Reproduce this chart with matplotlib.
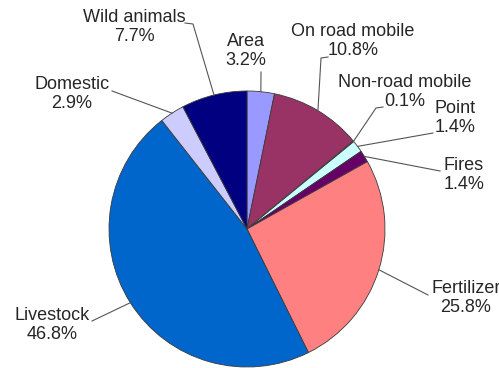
import matplotlib.pyplot as plt
import numpy as np

plt.rcParams['font.family'] = ['Liberation Sans', 'DejaVu Sans']

# emission sources, clockwise from 12 o'clock
sources = ['Area', 'On road mobile', 'Non-road mobile', 'Point', 'Fires',
           'Fertilizer', 'Livestock', 'Domestic', 'Wild animals']
shares = [3.2, 10.8, 0.1, 1.4, 1.4, 25.8, 46.8, 2.9, 7.7]
colors = ['#9999FF', '#993366', '#FFFFCC', '#CCFFFF', '#660066',
          '#FF8080', '#0066CC', '#CCCCFF', '#000080']

W, H = 499, 368
cx, cy, r = 247, 229, 138


def py(y):
    # screen-style y (down) -> axes y (up)
    return H - y


# label centre (x, y) and leader path start points, in screen pixels
label_pos = {
    'Area': (246, 51),
    'On road mobile': (353, 41),
    'Non-road mobile': (405, 92),
    'Point': (455, 118),
    'Fires': (464, 175),
    'Fertilizer': (466, 298),
    'Livestock': (52, 325),
    'Domestic': (72, 94),
    'Wild animals': (134, 27),
}
leader_start = {
    'Area': [(261, 72)],
    'On road mobile': [(328, 57), (321, 58)],
    'Non-road mobile': [(383, 107), (376, 108)],
    'Point': [(433, 133)],
    'Fires': [(440, 171)],
    'Fertilizer': [(428, 295)],
    'Livestock': [(92, 321)],
    'Domestic': [(112, 91)],
    'Wild animals': [(185, 23), (193, 24)],
}

fig = plt.figure(figsize=(W / 100, H / 100), dpi=100)
ax = fig.add_axes([0, 0, 1, 1])

wedges, _ = ax.pie(shares, colors=colors, startangle=90, counterclock=False,
                   center=(cx, py(cy)), radius=r, normalize=True,
                   wedgeprops=dict(edgecolor='#3a3a3a', linewidth=0.6))

# pie() resets the limits, so set the pixel frame afterwards
ax.set_xlim(0, W)
ax.set_ylim(0, H)
ax.set_aspect('equal')
ax.axis('off')

for name, pct, w in zip(sources, shares, wedges):
    mid = np.deg2rad((w.theta1 + w.theta2) / 2)
    rim = (cx + r * np.cos(mid), py(cy) + r * np.sin(mid))
    pts = [(x, py(y)) for x, y in leader_start[name]] + [rim]
    xs, ys = zip(*pts)
    ax.plot(xs, ys, color='#555555', lw=0.8)
    lx, ly = label_pos[name]
    ax.text(lx, py(ly), f'{name}\n{pct}%', ha='center', va='center',
            fontsize=13, color='#262626', linespacing=1.15)

fig.savefig('out.png', dpi=100, facecolor='white')
